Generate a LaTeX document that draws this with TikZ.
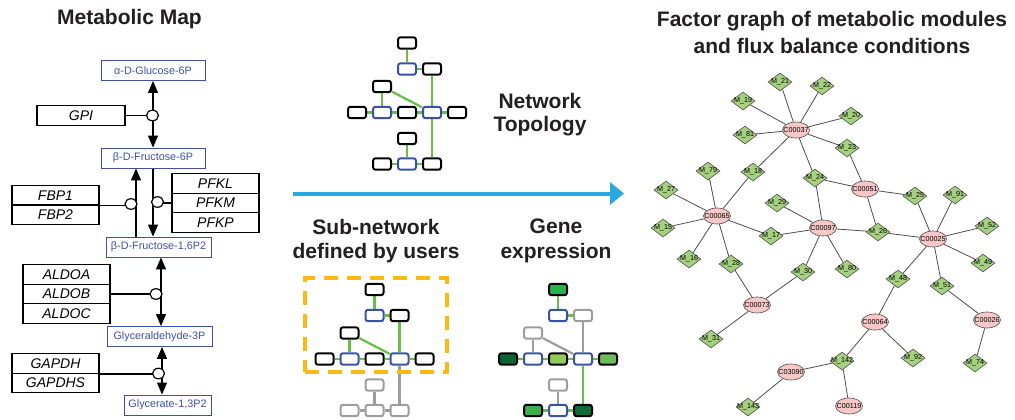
\documentclass[tikz,border=0pt]{standalone}
\usepackage{fontspec}
\setmainfont{Liberation Sans}
\usetikzlibrary{shapes.geometric,arrows.meta}
\pgfdeclarelayer{bg}
\pgfsetlayers{bg,main}

\definecolor{titlegray}{HTML}{231F20}
\definecolor{metblue}{HTML}{3F51A5}
\definecolor{netblue}{HTML}{3953A4}
\definecolor{edgegreen}{HTML}{6ABD45}
\definecolor{netgray}{HTML}{9D9D9D}
\definecolor{flowblue}{HTML}{29A8E0}
\definecolor{frameorange}{HTML}{FDB913}
\definecolor{cpdpink}{HTML}{F8C8C8}
\definecolor{modgreen}{HTML}{A4D07F}
\definecolor{fgline}{HTML}{4D4D4D}
\definecolor{exA}{HTML}{2BB04A}
\definecolor{exB}{HTML}{0B6535}
\definecolor{exC}{HTML}{96C95A}
\definecolor{exD}{HTML}{6DBE5A}
\definecolor{exE}{HTML}{3DAF4A}
\definecolor{exF}{HTML}{0F6B38}

\tikzset{
  heading/.style={font=\fontsize{21}{25}\selectfont\bfseries, text=titlegray, anchor=base, inner sep=0pt},
  metab/.style={draw=metblue, line width=0.9pt, fill=white, text=metblue,
    font=\fontsize{10.8}{12}\selectfont, minimum height=20pt, inner sep=0pt},
  gene/.style={draw=black, line width=1.2pt, fill=white,
    font=\fontsize{14}{16}\selectfont\itshape, minimum width=87pt, minimum height=19.5pt, inner sep=0pt},
  rxn/.style={ellipse, draw=black, line width=1.2pt, fill=white,
    minimum width=12pt, minimum height=10.5pt, inner sep=0pt},
  flux/.style={line width=1.3pt},
  fluxtip/.tip={Triangle[length=12pt,width=10pt]},
  % network glyph boxes
  nb/.style={rectangle, rounded corners=2.5pt, draw=black, line width=2pt, fill=white,
    minimum width=18pt, minimum height=11.4pt, inner sep=0pt},
  bb/.style={nb, draw=netblue},
  gb/.style={nb, draw=netgray},
  ge/.style={draw=edgegreen, line width=2.2pt},
  gy/.style={draw=netgray, line width=2.2pt},
  box0/.style={nb}, box1/.style={bb}, box2/.style={nb}, box3/.style={nb},
  box4/.style={nb}, box5/.style={bb}, box6/.style={nb}, box7/.style={bb},
  box8/.style={nb}, box9/.style={nb}, box10/.style={nb}, box11/.style={bb},
  box12/.style={nb},
  e01/.style={ge}, e12/.style={ge}, e27/.style={ge}, e35/.style={ge},
  e37/.style={ge}, e45/.style={ge}, e56/.style={ge}, e67/.style={ge},
  e78/.style={ge}, e7c/.style={ge}, e9b/.style={ge}, eab/.style={ge},
  ebc/.style={ge},
  % factor graph
  cpd/.style={ellipse, draw=fgline, line width=0.6pt, fill=cpdpink,
    minimum width=27pt, minimum height=16pt, inner sep=0pt,
    font=\fontsize{7.2}{8}\selectfont},
  mod/.style={diamond, draw=fgline, line width=0.6pt, fill=modgreen,
    minimum width=24pt, minimum height=18pt, inner sep=0pt,
    font=\fontsize{7.2}{8}\selectfont},
  fge/.style={draw=fgline, line width=0.8pt}
}

% a small reaction network: boxes t0..t12 with their links
\newcommand\netglyph[3]{%
  \begin{scope}[shift={(#2,#3)}]
    \node[box0]  (#1t0)  at (0,0) {};
    \node[box1]  (#1t1)  at (0,26) {};
    \node[box2]  (#1t2)  at (25,26) {};
    \node[box3]  (#1t3)  at (-25,43.5) {};
    \node[box4]  (#1t4)  at (-50,69.5) {};
    \node[box5]  (#1t5)  at (-25,69.5) {};
    \node[box6]  (#1t6)  at (0,69.5) {};
    \node[box7]  (#1t7)  at (25,69.5) {};
    \node[box8]  (#1t8)  at (50,69.5) {};
    \node[box9]  (#1t9)  at (0,95.5) {};
    \node[box10] (#1t10) at (-25,121) {};
    \node[box11] (#1t11) at (0,121) {};
    \node[box12] (#1t12) at (25,121) {};
    \begin{pgfonlayer}{bg}
      \draw[e01] (#1t0) -- (#1t1);
      \draw[e12] (#1t1) -- (#1t2);
      \draw[e27] (#1t2) -- (#1t7);
      \draw[e35] (#1t3) -- (#1t5);
      \draw[e37] (#1t3) -- (#1t7);
      \draw[e45] (#1t4) -- (#1t5);
      \draw[e56] (#1t5) -- (#1t6);
      \draw[e67] (#1t6) -- (#1t7);
      \draw[e78] (#1t7) -- (#1t8);
      \draw[e7c] (#1t7) -- (#1t12);
      \draw[e9b] (#1t9) -- (#1t11);
      \draw[eab] (#1t10) -- (#1t11);
      \draw[ebc] (#1t11) -- (#1t12);
    \end{pgfonlayer}
  \end{scope}}

\newcommand\cpdnode[3]{\node[cpd] (#1) at (#2,#3) {\makebox[0pt]{#1}};}
\newcommand\modnode[3]{\node[mod] (m#1) at (#2,#3) {\makebox[0pt]{M\_#1}};}

\begin{document}
\begin{tikzpicture}[x=1pt,y=-1pt]
\useasboundingbox (0,0) rectangle (1015,420);

% ---------------- metabolic map ----------------
\node[heading] (mmtitle) at (129.5,25) {Metabolic Map};

\node[metab, minimum width=104pt] (glc) at (153,70.5) {α-D-Glucose-6P};
\node[metab, minimum width=104pt] (f6p) at (153,158) {β-D-Fructose-6P};
\node[metab, minimum width=105pt] (fbp) at (158.5,247) {β-D-Fructose-1,6P2};
\node[metab, minimum width=105pt] (g3p) at (159.5,336.5) {Glyceraldehyde-3P};
\node[metab, minimum width=87pt]  (g13) at (167.5,405) {Glycerate-1,3P2};

\node[gene, minimum width=88pt] (gpi) at (81,115.5) {GPI};
\node[gene] (fbp1) at (55.5,195.2) {FBP1};
\node[gene] (fbp2) at (55.5,214.7) {FBP2};
\node[gene] (pfkl) at (215.5,183.5) {PFKL};
\node[gene] (pfkm) at (215.5,203) {PFKM};
\node[gene] (pfkp) at (215.5,222.5) {PFKP};
\node[gene] (aldoa) at (66.5,274.5) {ALDOA};
\node[gene] (aldob) at (66.5,294) {ALDOB};
\node[gene] (aldoc) at (66.5,313.5) {ALDOC};
\node[gene] (gapdh) at (55.5,363.5) {GAPDH};
\node[gene] (gapdhs) at (55.5,383) {GAPDHS};

\node[rxn] (rgpi) at (152.5,115.5) {};
\node[rxn] (rfbp) at (131,204) {};
\node[rxn] (rpfk) at (157.5,202) {};
\node[rxn] (rald) at (156,294) {};
\node[rxn] (rgap) at (158.5,373.5) {};

\coordinate (xF) at (136,0);
\coordinate (xP) at (153,0);
\coordinate (xL) at (161,0);
\coordinate (xG) at (162,0);

\begin{pgfonlayer}{bg}
  \draw[flux,fluxtip-fluxtip] (glc) -- (f6p);
  \draw[flux,-fluxtip] (xF |- fbp.north) -- (xF |- f6p.south);
  \draw[flux,-fluxtip] (xP |- f6p.south) -- (xP |- fbp.north);
  \draw[flux,fluxtip-fluxtip] (xL |- fbp.south) -- (xL |- g3p.north);
  \draw[flux,fluxtip-fluxtip] (xG |- g3p.south) -- (xG |- g13.north);
  \draw[flux] (gpi) -- (rgpi);
  \draw[flux] (fbp1.south east) -- (fbp1.south east -| rfbp);
  \draw[flux] (pfkm.west) -- (pfkm.west -| rpfk);
  \draw[flux] (aldob.east) -- (aldob.east -| rald);
  \draw[flux] (gapdh.south east) -- (gapdh.south east -| rgap);
\end{pgfonlayer}

% ---------------- network topology ----------------
\netglyph{nt}{407}{43}
\node[heading] (ntlabA) at (540,108) {Network};
\node[heading] (ntlabB) at (540,131.5) {Topology};

% ---------------- main flow arrow ----------------
\coordinate (flowS) at (293,193.5);
\coordinate (flowE) at (624,193.5);
\draw[flowblue, line width=4pt, -{Triangle[length=14pt,width=22pt]}] (flowS) -- (flowE);

% ---------------- user-defined sub-network ----------------
\node[heading] (snlabA) at (376,234.5) {Sub-network};
\node[heading] (snlabB) at (376,258.5) {defined by users};
\begin{scope}[box9/.style={gb}, box10/.style={gb}, box11/.style={gb}, box12/.style={gb},
              e7c/.style={gy}, e9b/.style={gy}, eab/.style={gy}, ebc/.style={gy}]
  \netglyph{ns}{374.5}{289.5}
\end{scope}
\node[draw=frameorange, line width=3.5pt, dash pattern=on 14pt off 9pt,
      minimum width=142pt, minimum height=94pt, inner sep=0pt] (subframe) at (376,325) {};

% ---------------- gene expression ----------------
\node[heading] (gxlabA) at (556,233.5) {Gene};
\node[heading] (gxlabB) at (556,258.5) {expression};
\begin{scope}[box0/.style={nb, fill=exA}, box2/.style={gb}, box3/.style={gb},
              box4/.style={nb, fill=exB}, box6/.style={nb, fill=exC},
              box8/.style={nb, fill=exD}, box9/.style={gb},
              box10/.style={nb, fill=exE}, box12/.style={nb, fill=exF},
              e27/.style={gy}, e35/.style={gy}, e37/.style={gy}, e9b/.style={gy}]
  \netglyph{ng}{558}{289.5}
\end{scope}

% ---------------- factor graph ----------------
\node[heading] (fgtitleA) at (832,27) {Factor graph of metabolic modules};
\node[heading] (fgtitleB) at (832,53.5) {and flux balance conditions};

\cpdnode{C00037}{796}{130}
\cpdnode{C00065}{717}{216}
\cpdnode{C00097}{823}{228}
\cpdnode{C00051}{865}{189}
\cpdnode{C00025}{933}{239}
\cpdnode{C00073}{757}{305}
\cpdnode{C00064}{875}{322}
\cpdnode{C00026}{987}{320}
\cpdnode{C03090}{791}{372}
\cpdnode{C00119}{849}{406}

\modnode{21}{780}{82}
\modnode{22}{822}{86}
\modnode{19}{743}{101}
\modnode{81}{745}{135}
\modnode{20}{851}{116}
\modnode{23}{847}{148}
\modnode{18}{753}{172}
\modnode{79}{708}{171}
\modnode{27}{666}{190}
\modnode{15}{663}{228}
\modnode{24}{815}{178}
\modnode{29}{777}{203}
\modnode{17}{771}{236}
\modnode{16}{689}{259}
\modnode{28}{731}{264}
\modnode{30}{803}{272}
\modnode{80}{847}{269}
\modnode{26}{878}{232}
\modnode{25}{915}{196}
\modnode{91}{955}{195}
\modnode{52}{987}{226}
\modnode{49}{983}{263}
\modnode{48}{898}{279}
\modnode{51}{942}{286}
\modnode{92}{913}{358}
\modnode{74}{975}{363}
\modnode{142}{842}{361}
\modnode{31}{711}{339}
\modnode{143}{748}{407}

\begin{pgfonlayer}{bg}
  \foreach \c/\m in {C00037/m21, C00037/m22, C00037/m19, C00037/m81, C00037/m20,
                     C00037/m23, C00037/m18, C00037/m24,
                     C00065/m18, C00065/m79, C00065/m27, C00065/m15, C00065/m16,
                     C00065/m28, C00065/m17,
                     C00097/m24, C00097/m29, C00097/m17, C00097/m26, C00097/m80, C00097/m30,
                     C00051/m23, C00051/m24, C00051/m25, C00051/m26,
                     C00025/m25, C00025/m91, C00025/m52, C00025/m26, C00025/m49,
                     C00025/m48, C00025/m51,
                     C00073/m28, C00073/m30, C00073/m31,
                     C00064/m48, C00064/m92, C00064/m142,
                     C00026/m51, C00026/m74,
                     C03090/m142, C03090/m143,
                     C00119/m142}
    \draw[fge] (\c) -- (\m);
\end{pgfonlayer}

\end{tikzpicture}
\end{document}
